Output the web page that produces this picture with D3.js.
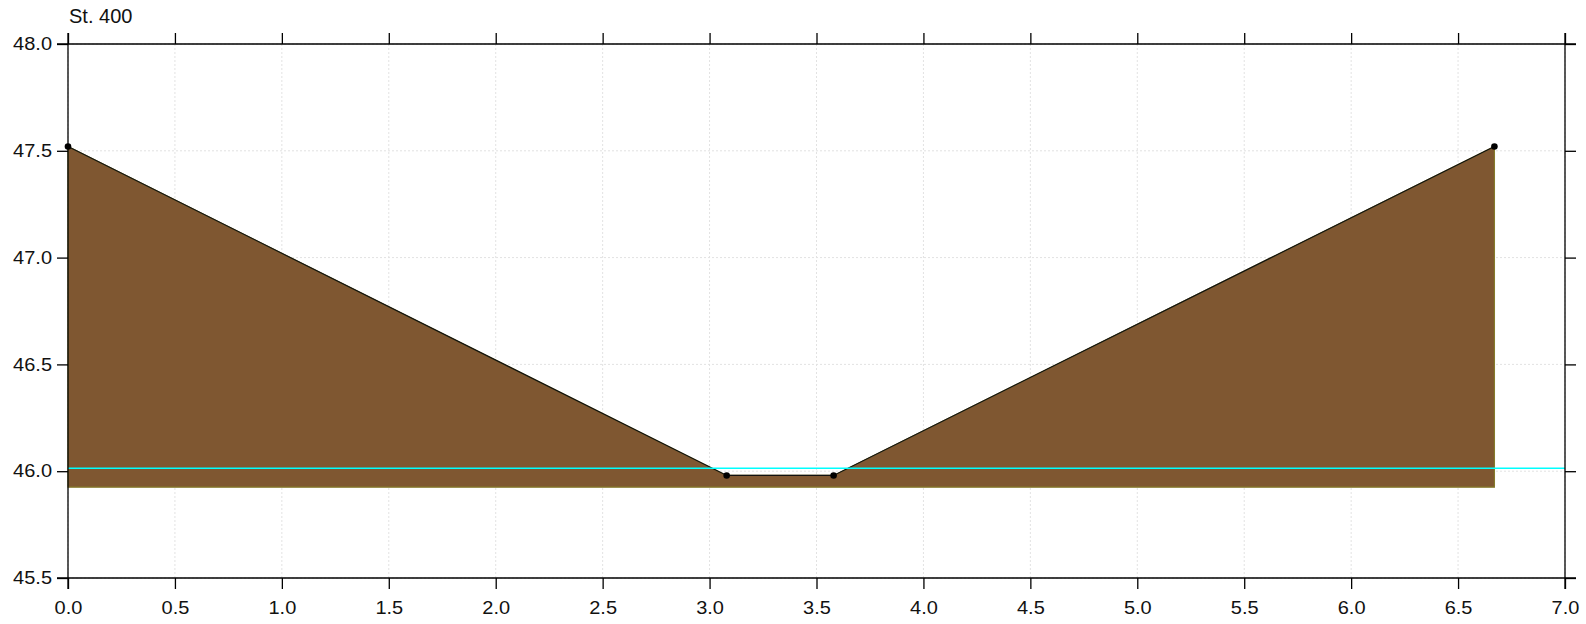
<!DOCTYPE html>
<html><head><meta charset="utf-8">
<script src="https://cdn.jsdelivr.net/npm/d3@7"></script>
<style>
html,body{margin:0;padding:0;background:#fff;}
svg text{font-family:"Liberation Sans",Arial,sans-serif;fill:#111;}
</style></head>
<body>
<svg id="chart" width="1586" height="624"></svg>
<script>
const title = "St. 400";
const stations = [0, 3.08, 3.58, 6.67];
const elevations = [47.52, 45.98, 45.98, 47.52];
const waterLevel = 46.014;
const baseElevation = 45.925;
const xTicks = [0,0.5,1,1.5,2,2.5,3,3.5,4,4.5,5,5.5,6,6.5,7];
const yTicks = [45.5,46.0,46.5,47.0,47.5,48.0];

const svg = d3.select("#chart");
const L = 68, R = 1565, T = 44, B = 578;
const x = d3.scaleLinear().domain([0,7]).range([L,R]);
const y = d3.scaleLinear().domain([45.5,48]).range([B,T]);
const tick = 11;

// grid
const grid = svg.append("g");
grid.selectAll("line.gx").data(xTicks).join("line")
  .attr("x1",d=>x(d)).attr("x2",d=>x(d)).attr("y1",T).attr("y2",B)
  .attr("stroke","#e2e2e2").attr("stroke-width",1).attr("stroke-dasharray","2,2");
grid.selectAll("line.gy").data(yTicks).join("line")
  .attr("y1",d=>y(d)).attr("y2",d=>y(d)).attr("x1",L).attr("x2",R)
  .attr("stroke","#e2e2e2").attr("stroke-width",1).attr("stroke-dasharray","2,2");

// ground fill
const pts = stations.map((s,i)=>[s,elevations[i]]);
const poly = [[stations[0],baseElevation], ...pts, [stations[stations.length-1],baseElevation]];
const line = d3.line().x(d=>x(d[0])).y(d=>y(d[1]));
svg.append("path").attr("d", line(poly)+"Z")
  .attr("fill","#7f5731").attr("stroke","#857a2a").attr("stroke-width",1.2);
svg.append("path").attr("d", line(pts))
  .attr("fill","none").attr("stroke","#111").attr("stroke-width",1.2);

// water
svg.append("line").attr("x1",x(0)).attr("x2",x(7)).attr("y1",y(waterLevel)).attr("y2",y(waterLevel))
  .attr("stroke","#00ffff").attr("stroke-width",1.5);

// points
svg.selectAll("circle").data(pts).join("circle")
  .attr("cx",d=>x(d[0])).attr("cy",d=>y(d[1])).attr("r",3.3).attr("fill","#000");

// axes
const axB = d3.axisBottom(x).tickValues(xTicks).tickSize(tick).tickPadding(12).tickFormat(d3.format(".1f"));
const axT = d3.axisTop(x).tickValues(xTicks).tickSize(tick).tickFormat("");
const axL = d3.axisLeft(y).tickValues(yTicks).tickSize(tick).tickPadding(5).tickFormat(d3.format(".1f"));
const axR = d3.axisRight(y).tickValues(yTicks).tickSize(tick).tickFormat("");
function style(g){
  g.select(".domain").remove();
  g.selectAll(".tick line").attr("stroke","#000").attr("stroke-width",1.3);
  g.selectAll("text").style("font-size","18px").attr("fill","#111")
    .each(function(){
      const w = this.getComputedTextLength();
      if (w > 0) d3.select(this).attr("textLength", w*1.11).attr("lengthAdjust","spacingAndGlyphs");
    });
}
svg.append("g").attr("transform",`translate(0,${B})`).call(axB).call(style);
svg.append("g").attr("transform",`translate(0,${T})`).call(axT).call(style);
svg.append("g").attr("transform",`translate(${L},0)`).call(axL).call(style);
svg.append("g").attr("transform",`translate(${R},0)`).call(axR).call(style);

// frame lines extended by tick length
const frame = svg.append("g").attr("stroke","#000").attr("stroke-width",1.3);
frame.append("line").attr("x1",L-tick).attr("x2",R+tick).attr("y1",T).attr("y2",T);
frame.append("line").attr("x1",L-tick).attr("x2",R+tick).attr("y1",B).attr("y2",B);
frame.append("line").attr("x1",L).attr("x2",L).attr("y1",T-tick).attr("y2",B+tick);
frame.append("line").attr("x1",R).attr("x2",R).attr("y1",T-tick).attr("y2",B+tick);

svg.append("text").attr("x",L+1).attr("y",23).style("font-size","20px").text(title);
</script>
</body></html>
